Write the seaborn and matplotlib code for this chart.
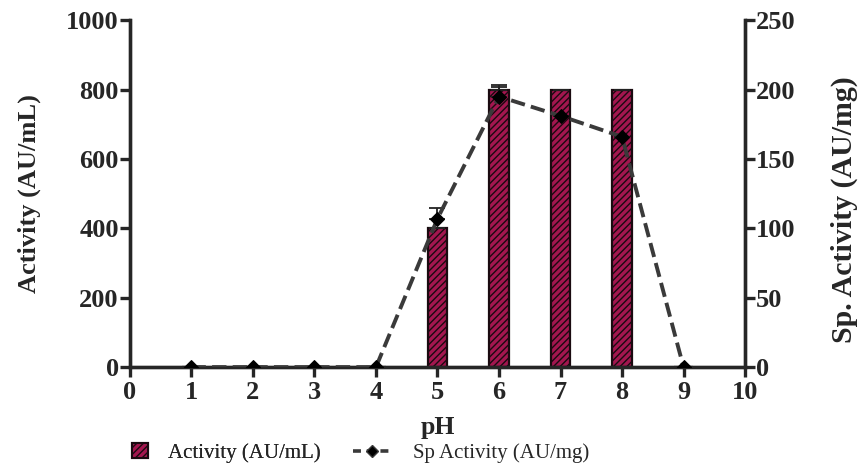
import matplotlib
matplotlib.use("Agg")
import matplotlib.pyplot as plt
import seaborn as sns
import pandas as pd
from matplotlib.patches import Patch
from matplotlib.lines import Line2D

ph = [1, 2, 3, 4, 5, 6, 7, 8, 9]
activity = [0, 0, 0, 0, 400, 800, 800, 800, 0]
activity_err = [0, 0, 0, 0, 0, 12, 0, 0, 0]
sp_activity = [0, 0, 0, 0, 107, 195, 181, 166, 0]
sp_err = [0, 0, 0, 0, 8, 7, 0, 0, 0]

sns.set_style("ticks")
plt.rcParams['font.family'] = ['Liberation Serif', 'DejaVu Serif']
plt.rcParams['hatch.linewidth'] = 1.0
plt.rcParams['hatch.color'] = '#3a0a1c'

df = pd.DataFrame({"pH": ph, "Activity": activity, "Sp": sp_activity})

fig = plt.figure(figsize=(8.63, 4.70), dpi=100)
ax = fig.add_axes([0.1506, 0.219, 0.7127, 0.738])

bar_color = '#a3164f'
sns.barplot(data=df, x="pH", y="Activity", native_scale=True, width=0.31,
            color=bar_color, saturation=1, edgecolor='#1a0a10', linewidth=1.6,
            ax=ax, errorbar=None, zorder=2)
for p in ax.patches:
    p.set_hatch('/////')
ax.errorbar(ph, activity, yerr=[[0]*len(ph), activity_err], fmt='none',
            ecolor='#222222', elinewidth=1.3, capsize=6, capthick=1.3, zorder=3)

ax.set_xlim(0, 10)
ax.set_ylim(0, 1000)
ax.set_xticks(range(0, 11))
ax.set_yticks(range(0, 1001, 200))

ax2 = ax.twinx()
sns.lineplot(data=df, x="pH", y="Sp", ax=ax2, color='#3a3a3a', linestyle='--',
             linewidth=2.8, marker='D', markersize=7, markerfacecolor='black',
             markeredgecolor='black', dashes=(3, 2.2), zorder=4)
ax2.errorbar(ph, sp_activity, yerr=[[0]*len(ph), sp_err], fmt='none',
             ecolor='#222222', elinewidth=1.3, capsize=6, capthick=1.3, zorder=3)
ax2.set_ylim(0, 250)
ax2.set_yticks(range(0, 251, 50))
ax2.set_xlim(0, 10)

for a in (ax, ax2):
    for s in a.spines.values():
        s.set_linewidth(2.4)
    a.spines['top'].set_visible(False)
    a.tick_params(width=2.4, length=7, labelsize=19, pad=1)
    a.tick_params(axis='x', pad=3)
    for lbl in a.get_xticklabels() + a.get_yticklabels():
        lbl.set_fontweight('bold')

ax.set_xlabel('pH', fontsize=18.5, fontweight='bold', labelpad=9)
ax.set_ylabel('Activity (AU/mL)', fontsize=19, fontweight='bold', labelpad=18)
ax2.set_ylabel('Sp. Activity (AU/mg)', fontsize=21.5, fontweight='bold', labelpad=25)
ax2.yaxis.label.set_y(0.455)

h1 = [Patch(facecolor=bar_color, edgecolor='#1a0a10', hatch='/////', linewidth=1.5,
            label='Activity (AU/mL)')]
h2 = [Line2D([0], [0], color='#3a3a3a', linestyle='--', linewidth=2.6, marker='D',
             markersize=6, markerfacecolor='black', dashes=(2.2, 1.6),
             label='Sp Activity (AU/mg)')]
leg1 = fig.legend(handles=h1, loc='center left', bbox_to_anchor=(0.153, 0.036),
                  frameon=False, fontsize=15, handlelength=0.75, handleheight=0.75,
                  handletextpad=1.0, borderpad=0, borderaxespad=0)
fig.add_artist(leg1)
fig.legend(handles=h2, loc='center left', bbox_to_anchor=(0.409, 0.036),
           frameon=False, fontsize=15, handlelength=1.87, handletextpad=1.0,
           borderpad=0, borderaxespad=0)

fig.savefig('out.png', dpi=100)
